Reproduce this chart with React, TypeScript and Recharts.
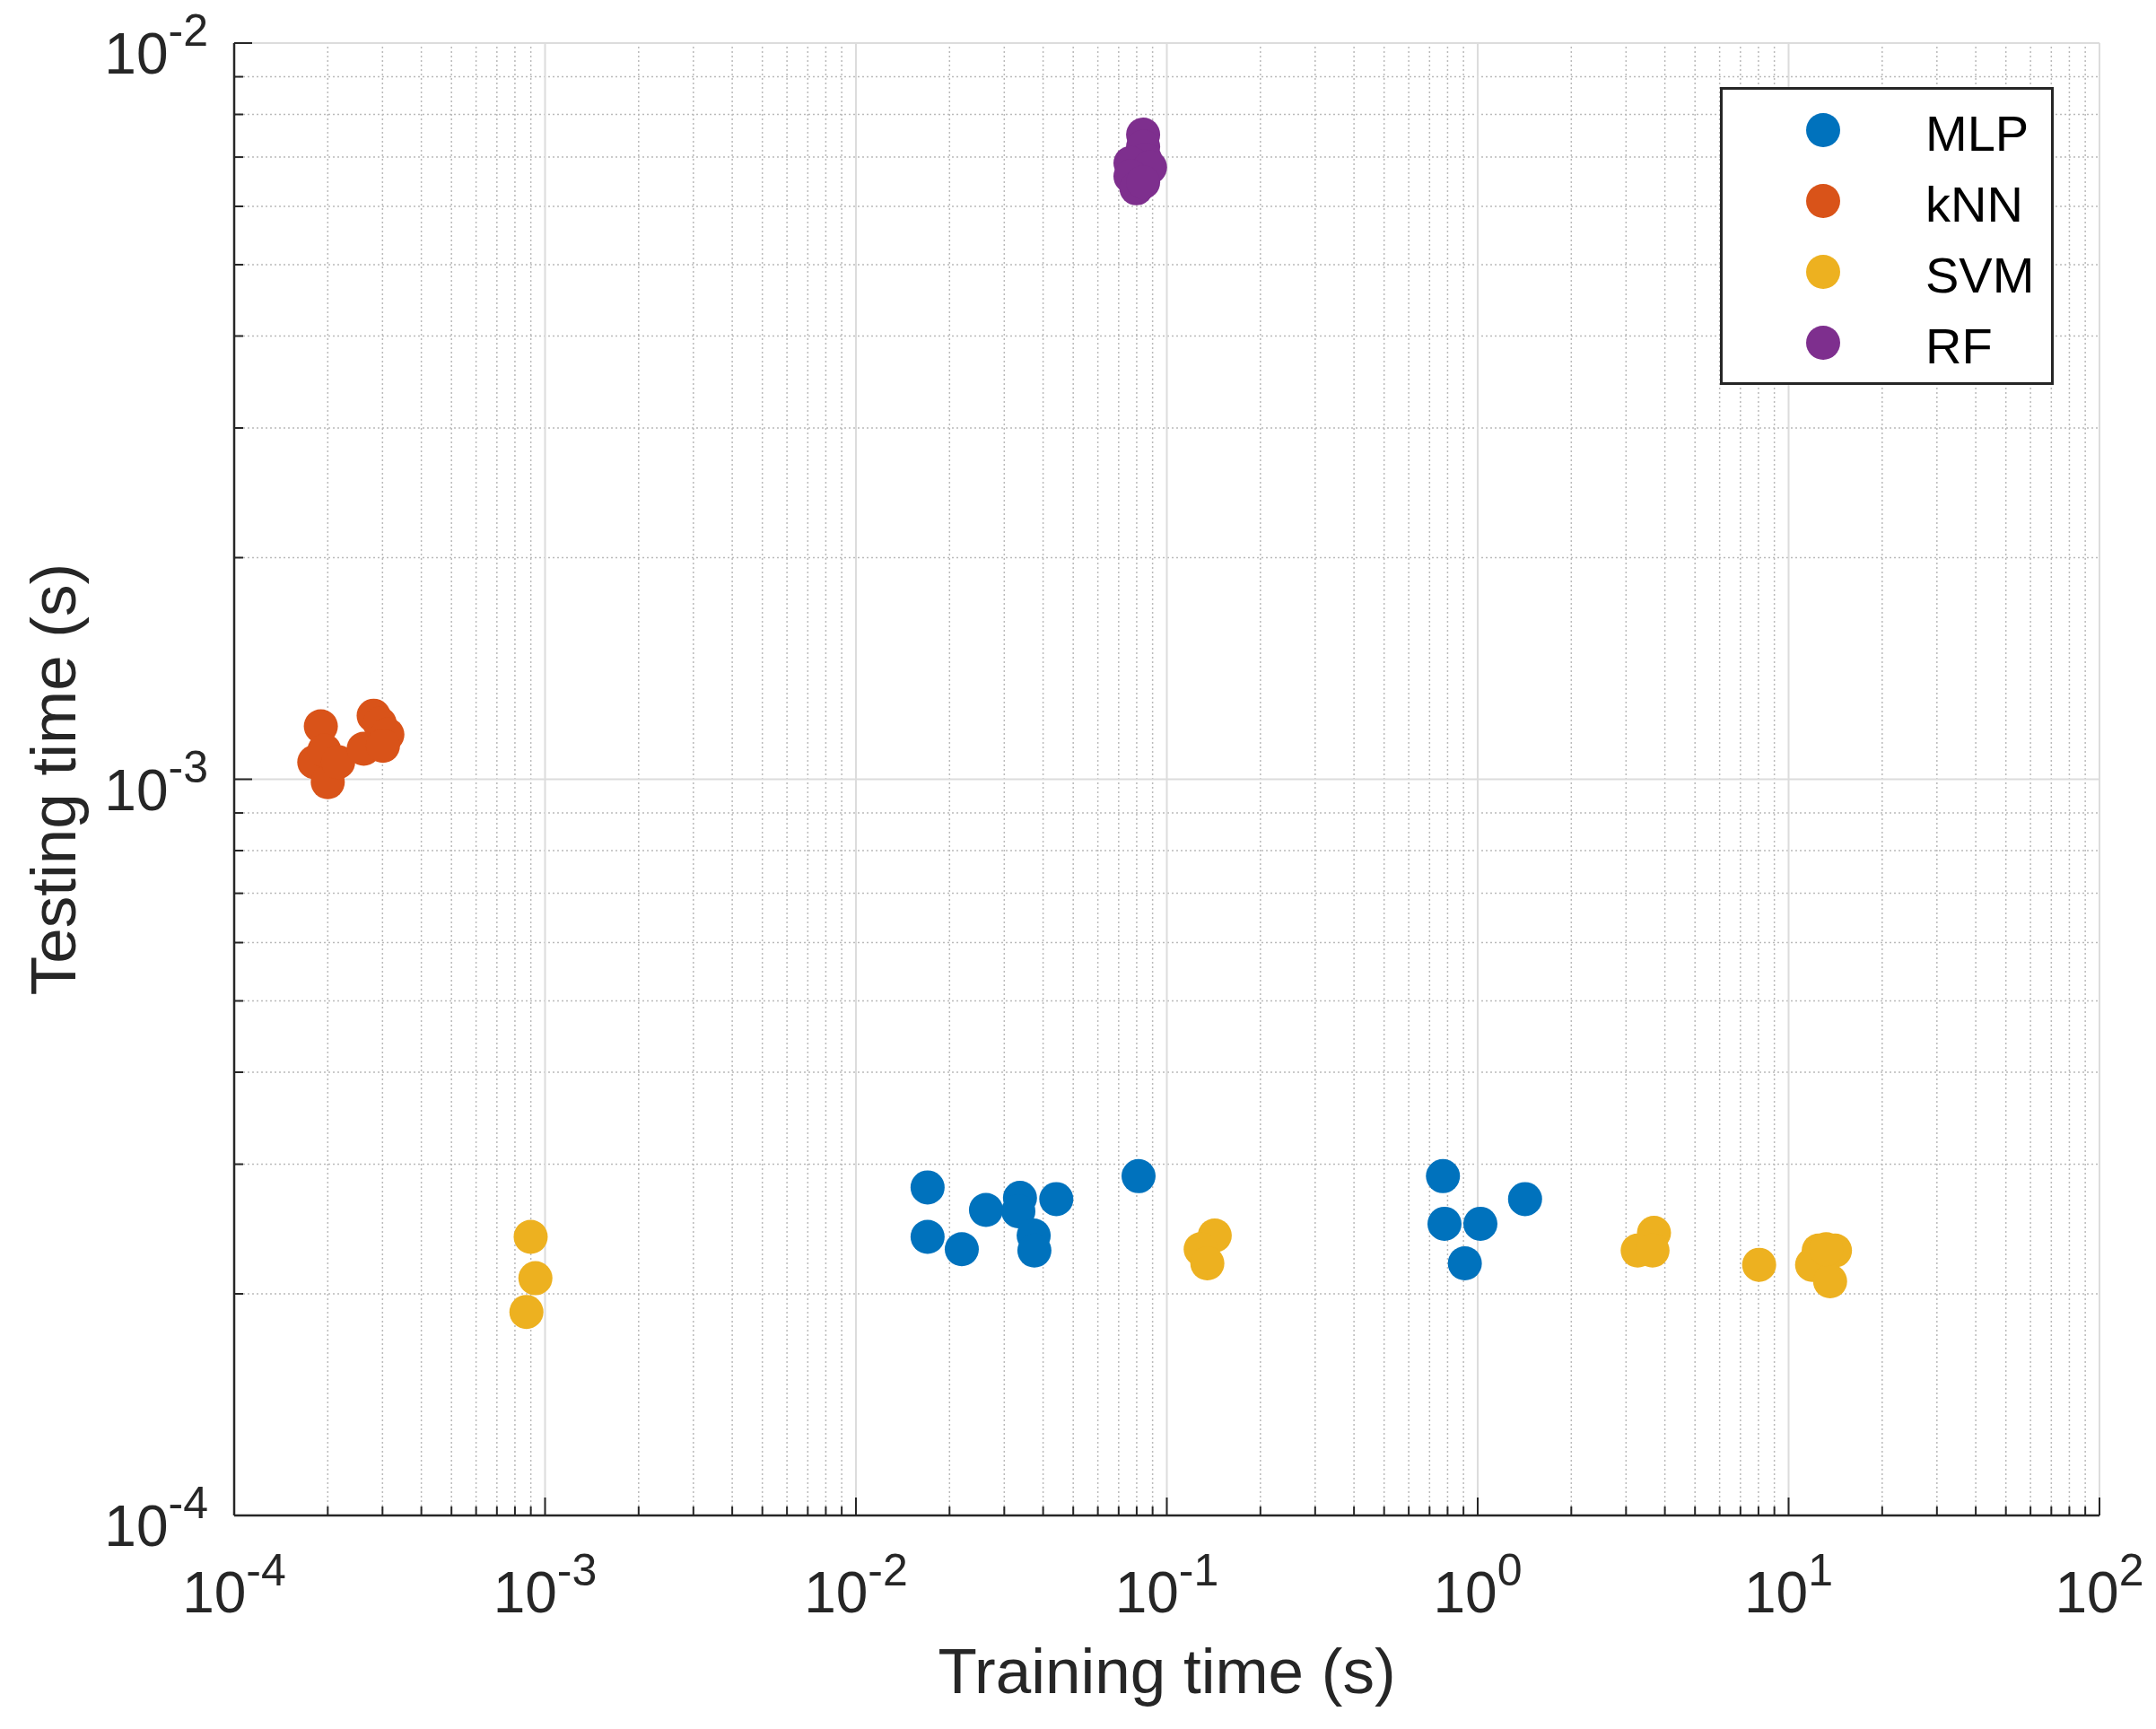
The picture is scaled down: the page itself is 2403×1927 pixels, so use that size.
import React from "react";
import { Legend, ReferenceLine, Scatter, ScatterChart, XAxis, YAxis } from "recharts";

// values (seconds)
const mlpTrain = [0.017, 0.017, 0.0219, 0.0262, 0.0337, 0.0333, 0.0373, 0.0375, 0.0441, 0.0811, 0.773, 0.782, 1.02, 0.909, 1.42];
const mlpTest = [2.79e-4, 2.39e-4, 2.3e-4, 2.6e-4, 2.7e-4, 2.59e-4, 2.4e-4, 2.29e-4, 2.69e-4, 2.89e-4, 2.89e-4, 2.49e-4, 2.49e-4, 2.2e-4, 2.69e-4];
const knnTrain = [1.9e-4, 1.81e-4, 2.0e-4, 1.95e-4, 2.16e-4, 2.61e-4, 2.81e-4, 2.94e-4, 3.11e-4, 3.01e-4];
const knnTest = [1.18e-3, 1.055e-3, 0.991e-3, 1.094e-3, 1.055e-3, 1.1e-3, 1.22e-3, 1.19e-3, 1.15e-3, 1.11e-3];
const svmTrain = [8.99e-4, 9.31e-4, 8.71e-4, 0.1426, 0.1285, 0.135, 3.27, 3.69, 3.65, 8.04, 12.5, 14.1, 11.9, 13.6, 13.2];
const svmTest = [2.39e-4, 2.1e-4, 1.89e-4, 2.4e-4, 2.3e-4, 2.2e-4, 2.29e-4, 2.42e-4, 2.29e-4, 2.19e-4, 2.29e-4, 2.29e-4, 2.19e-4, 2.08e-4, 2.3e-4];
const rfTrain = [0.0839, 0.0839, 0.0853, 0.0764, 0.0883, 0.0764, 0.0798, 0.0839];
const rfTest = [7.51e-3, 7.23e-3, 6.94e-3, 6.87e-3, 6.78e-3, 6.59e-3, 6.35e-3, 6.47e-3];

const seriesNames = ["MLP", "kNN", "SVM", "RF"];
const seriesColors = ["#0072BD", "#D95319", "#EDB120", "#7E2F8E"];

const xMajorTicks = [1e-4, 1e-3, 1e-2, 1e-1, 1, 10, 100];
const xTickExps = ["-4", "-3", "-2", "-1", "0", "1", "2"];
const yMajorTicks = [1e-4, 1e-3, 1e-2];
const yTickExps = ["-4", "-3", "-2"];

const FONT = "'Liberation Sans', Arial, Helvetica, sans-serif";
const INK = "#262626";

const zip = (xs: number[], ys: number[]) => xs.map((x, i) => ({ x, y: ys[i] }));
const series = [
  zip(mlpTrain, mlpTest),
  zip(knnTrain, knnTest),
  zip(svmTrain, svmTest),
  zip(rfTrain, rfTest),
];

const minorsOf = (majors: number[]) =>
  majors.slice(0, -1).flatMap((m) => [2, 3, 4, 5, 6, 7, 8, 9].map((d) => d * m));
const xMinorTicks = minorsOf(xMajorTicks);
const yMinorTicks = minorsOf(yMajorTicks);

const XTick = (props: any) => {
  const { x, y, payload } = props;
  const idx = xMajorTicks.indexOf(payload.value);
  const major = idx >= 0;
  return (
    <g>
      <line x1={x} x2={x} y1={y} y2={y - (major ? 20 : 10)} stroke={INK} strokeWidth={2} />
      {major && (
        <text x={x} y={y + 108} textAnchor="middle" fontFamily={FONT} fill={INK}>
          <tspan fontSize={64}>10</tspan>
          <tspan fontSize={50} dy={-30}>{xTickExps[idx]}</tspan>
        </text>
      )}
    </g>
  );
};

const YTick = (props: any) => {
  const { x, y, payload } = props;
  const idx = yMajorTicks.indexOf(payload.value);
  const major = idx >= 0;
  return (
    <g>
      <line x1={x} x2={x + (major ? 20 : 10)} y1={y} y2={y} stroke={INK} strokeWidth={2} />
      {major && (
        <text x={x - 29} y={y + 34} textAnchor="end" fontFamily={FONT} fill={INK}>
          <tspan fontSize={64}>10</tspan>
          <tspan fontSize={50} dy={-31}>{yTickExps[idx]}</tspan>
        </text>
      )}
    </g>
  );
};

const renderLegend = () => (
  <svg width={372} height={332} style={{ display: "block" }}>
    <rect x={1.5} y={1.5} width={369} height={329} fill="#fff" stroke={INK} strokeWidth={3} />
    {seriesNames.map((name, i) => (
      <g key={name}>
        <circle cx={115} cy={48 + i * 79} r={19} fill={seriesColors[i]} />
        <text x={229} y={71 + i * 79} fontSize={56} fontFamily={FONT} fill="#000">
          {name}
        </text>
      </g>
    ))}
  </svg>
);

export default function App() {
  return (
    <div style={{ position: "absolute", left: 0, top: 0, background: "#fff" }}>
      <ScatterChart width={2403} height={1927} margin={{ top: 48, right: 63, bottom: 138, left: 111 }}>
        {xMinorTicks.map((v) => (
          <ReferenceLine key={"xm" + v} x={v} stroke="#bababa" strokeWidth={1.5} strokeDasharray="2 3" />
        ))}
        {yMinorTicks.map((v) => (
          <ReferenceLine key={"ym" + v} y={v} stroke="#bababa" strokeWidth={1.5} strokeDasharray="2 3" />
        ))}
        {xMajorTicks.map((v) => (
          <ReferenceLine key={"xM" + v} x={v} stroke="#dcdcdc" strokeWidth={2} />
        ))}
        {yMajorTicks.map((v) => (
          <ReferenceLine key={"yM" + v} y={v} stroke="#dcdcdc" strokeWidth={2} />
        ))}
        <XAxis
          type="number"
          dataKey="x"
          scale="log"
          domain={[1e-4, 100]}
          allowDataOverflow
          ticks={[...xMajorTicks, ...xMinorTicks]}
          interval={0}
          tickSize={0}
          tickMargin={0}
          tick={XTick}
          height={100}
          axisLine={{ stroke: INK, strokeWidth: 2.5 }}
          tickLine={false}
          label={(p: any) => {
            const vb = p.viewBox;
            return (
              <text x={vb.x + vb.width / 2} y={vb.y + 198} textAnchor="middle" fontSize={71} fontFamily={FONT} fill={INK}>
                Training time (s)
              </text>
            );
          }}
        />
        <YAxis
          type="number"
          dataKey="y"
          scale="log"
          domain={[1e-4, 1e-2]}
          allowDataOverflow
          ticks={[...yMajorTicks, ...yMinorTicks]}
          interval={0}
          tickSize={0}
          tickMargin={0}
          tick={YTick}
          width={150}
          axisLine={{ stroke: INK, strokeWidth: 2.5 }}
          tickLine={false}
          label={(p: any) => {
            const vb = p.viewBox;
            const cx = vb.x - 27;
            const cy = vb.y + vb.height / 2;
            return (
              <text x={cx} y={cy} transform={`rotate(-90 ${cx} ${cy})`} textAnchor="middle" fontSize={71} fontFamily={FONT} fill={INK}>
                Testing time (s)
              </text>
            );
          }}
        />
        {series.map((pts, i) => (
          <Scatter
            key={seriesNames[i]}
            name={seriesNames[i]}
            data={pts}
            fill={seriesColors[i]}
            isAnimationActive={false}
            shape={(p: any) => <circle cx={p.cx} cy={p.cy} r={19} fill={seriesColors[i]} />}
          />
        ))}
        <Legend
          layout="vertical"
          align="center"
          verticalAlign="middle"
          content={renderLegend}
          wrapperStyle={{ left: 1917, top: 97, width: 372, height: 332, right: "auto", bottom: "auto" }}
        />
      </ScatterChart>
    </div>
  );
}
